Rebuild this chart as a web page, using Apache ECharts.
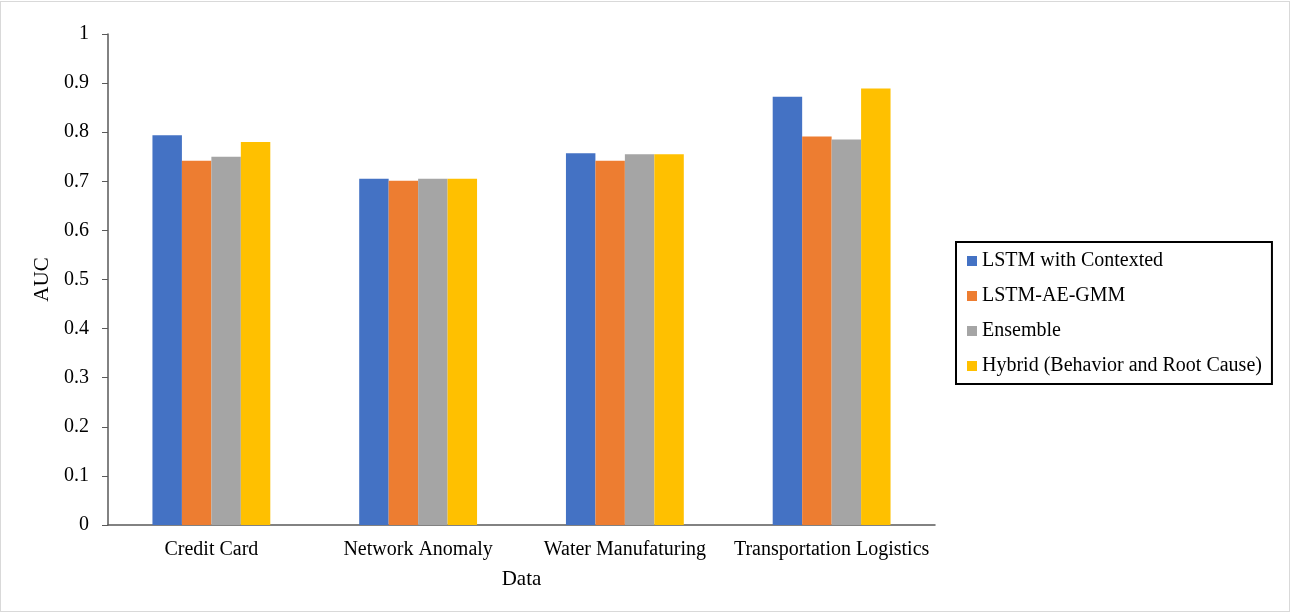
<!DOCTYPE html>
<html>
<head>
<meta charset="utf-8">
<script src="https://cdn.jsdelivr.net/npm/echarts@6/dist/echarts.min.js"></script>
<style>
  html, body { margin: 0; padding: 0; background: #fff; }
  #chart { width: 1288px; height: 609px; border: 1px solid #d9d9d9; margin-top: 1px; }
</style>
</head>
<body>
<div id="chart"></div>
<script>
// AUC per dataset for each detection approach
const categories = ['Credit Card', 'Network Anomaly', 'Water Manufaturing', 'Transportation Logistics'];
const lstmContext = [0.794, 0.705, 0.757, 0.872];
const lstmAeGmm   = [0.742, 0.701, 0.742, 0.791];
const ensemble    = [0.750, 0.705, 0.755, 0.785];
const hybrid      = [0.780, 0.705, 0.755, 0.889];
const seriesNames = ['LSTM with Contexted', 'LSTM-AE-GMM', 'Ensemble', 'Hybrid (Behavior and Root Cause)'];
const colors = ['#4472C4', '#ED7D31', '#A5A5A5', '#FFC000'];
const yTicks = [0, 0.1, 0.2, 0.3, 0.4, 0.5, 0.6, 0.7, 0.8, 0.9, 1];

const font = '"Liberation Serif", "DejaVu Serif", serif';
const chart = echarts.init(document.getElementById('chart'));

const seriesData = [lstmContext, lstmAeGmm, ensemble, hybrid];
chart.setOption({
  animation: false,
  color: colors,
  textStyle: { fontFamily: font, color: '#000' },
  grid: { left: 107, right: 354, top: 32, bottom: 86 },
  legend: {
    orient: 'vertical',
    left: 955, top: 240,
    data: seriesNames,
    icon: 'rect',
    itemWidth: 10, itemHeight: 10,
    itemGap: 15,
    itemStyle: { borderWidth: 0 },
    padding: [9, 10, 8, 11],
    borderColor: '#000', borderWidth: 2,
    textStyle: { fontFamily: font, fontSize: 20, color: '#000' }
  },
  xAxis: {
    type: 'category',
    data: categories,
    name: 'Data',
    nameLocation: 'middle',
    nameGap: 44,
    nameTextStyle: { fontFamily: font, fontSize: 21, color: '#000' },
    axisLine: { lineStyle: { color: '#595959', width: 1.5 } },
    axisTick: { show: false },
    axisLabel: { fontFamily: font, fontSize: 20, color: '#000', margin: 15, interval: 0 }
  },
  yAxis: {
    type: 'value',
    min: 0, max: 1, interval: 0.1,
    name: 'AUC',
    nameLocation: 'middle',
    nameGap: 52,
    nameRotate: 90,
    nameTextStyle: { fontFamily: font, fontSize: 21, color: '#000' },
    axisLine: { show: true, lineStyle: { color: '#595959', width: 1.5 } },
    axisTick: { show: true, length: 6, lineStyle: { color: '#595959' } },
    splitLine: { show: false },
    axisLabel: {
      fontFamily: font, fontSize: 20, color: '#000', margin: 19,
      formatter: v => {
        const t = yTicks.find(x => Math.abs(x - v) < 1e-9);
        return t === undefined ? '' : String(t);
      }
    }
  },
  series: seriesData.map((d, i) => ({
    name: seriesNames[i],
    type: 'bar',
    data: d,
    barGap: '0%',
    barCategoryGap: '43%',
    itemStyle: { color: colors[i] }
  }))
});
</script>
</body>
</html>
